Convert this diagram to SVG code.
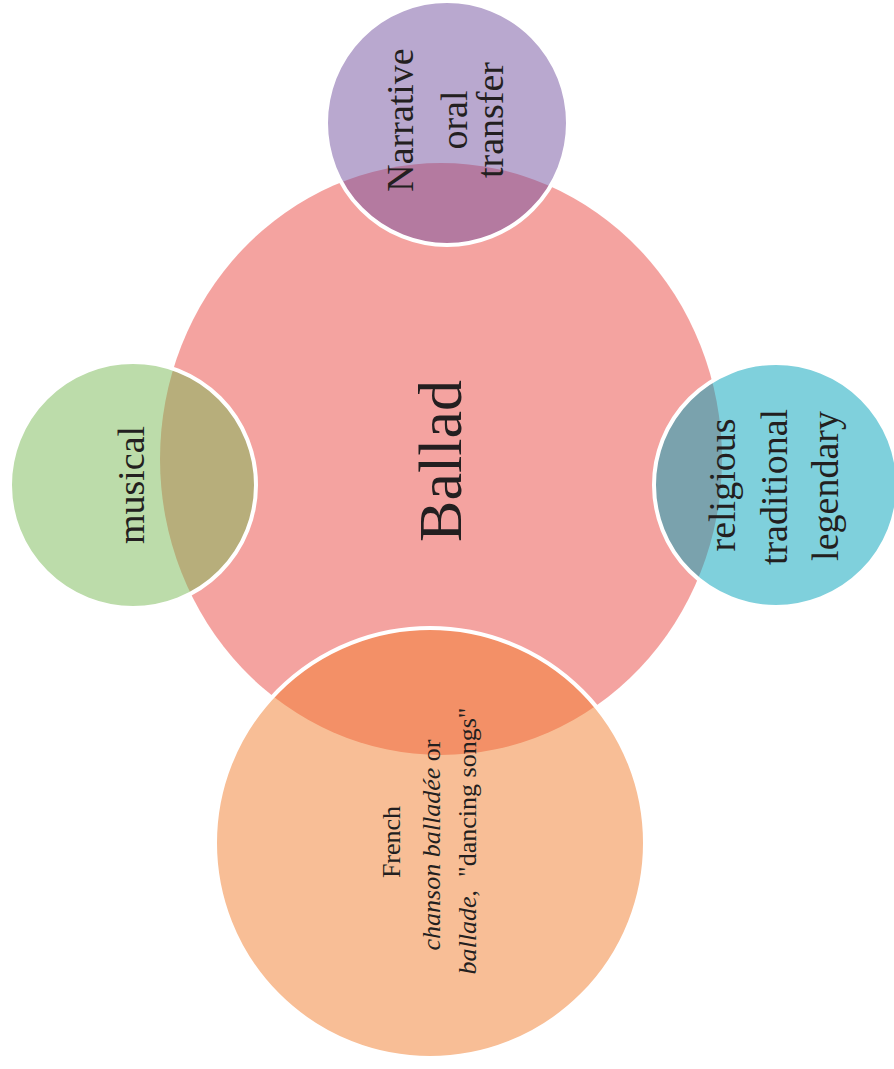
<svg xmlns="http://www.w3.org/2000/svg" width="894" height="1069" viewBox="0 0 894 1069">
<style>
.t{font-family:"Liberation Serif","Times New Roman",serif;fill:#231f20;text-anchor:middle}
.sat{stroke:#ffffff;stroke-width:4}
</style>
<rect width="894" height="1069" fill="#ffffff"/>
<g id="node-ballad">
<ellipse cx="441" cy="459" rx="281" ry="296" fill="#f4a3a0"/>
</g>
<g id="node-narrative">
<ellipse cx="447" cy="123" rx="121" ry="122" fill="#7351a0" fill-opacity="0.5" class="sat"/>
</g>
<g id="node-musical">
<circle cx="133" cy="485" r="123" fill="#79b955" fill-opacity="0.5" class="sat"/>
</g>
<g id="node-religious">
<circle cx="776" cy="485" r="122" fill="#00a1b9" fill-opacity="0.5" class="sat"/>
</g>
<g id="node-french">
<circle cx="430" cy="843" r="215" fill="#f17d2d" fill-opacity="0.5" class="sat"/>
</g>
<g id="connectors"></g>
<g id="labels">
<text class="t" font-size="62" transform="translate(461,461) rotate(-90)">Ballad</text>
<g font-size="38">
<text class="t" transform="translate(413,120) rotate(-90)">Narrative</text>
<text class="t" transform="translate(467,120) rotate(-90)">oral</text>
<text class="t" transform="translate(503,120) rotate(-90)">transfer</text>
<text class="t" transform="translate(144,485) rotate(-90)">musical</text>
<text class="t" transform="translate(735,485) rotate(-90)">religious</text>
<text class="t" transform="translate(787,487) rotate(-90)">traditional</text>
<text class="t" transform="translate(838,486) rotate(-90)">legendary</text>
</g>
<g font-size="26">
<text class="t" transform="translate(400,842) rotate(-90)">French</text>
<text class="t" transform="translate(440,845) rotate(-90)"><tspan font-style="italic">chanson balladée</tspan> or</text>
<text class="t" transform="translate(476,841) rotate(-90)" xml:space="preserve"><tspan font-style="italic">ballade</tspan>,  "dancing songs"</text>
</g>
</g>
</svg>
